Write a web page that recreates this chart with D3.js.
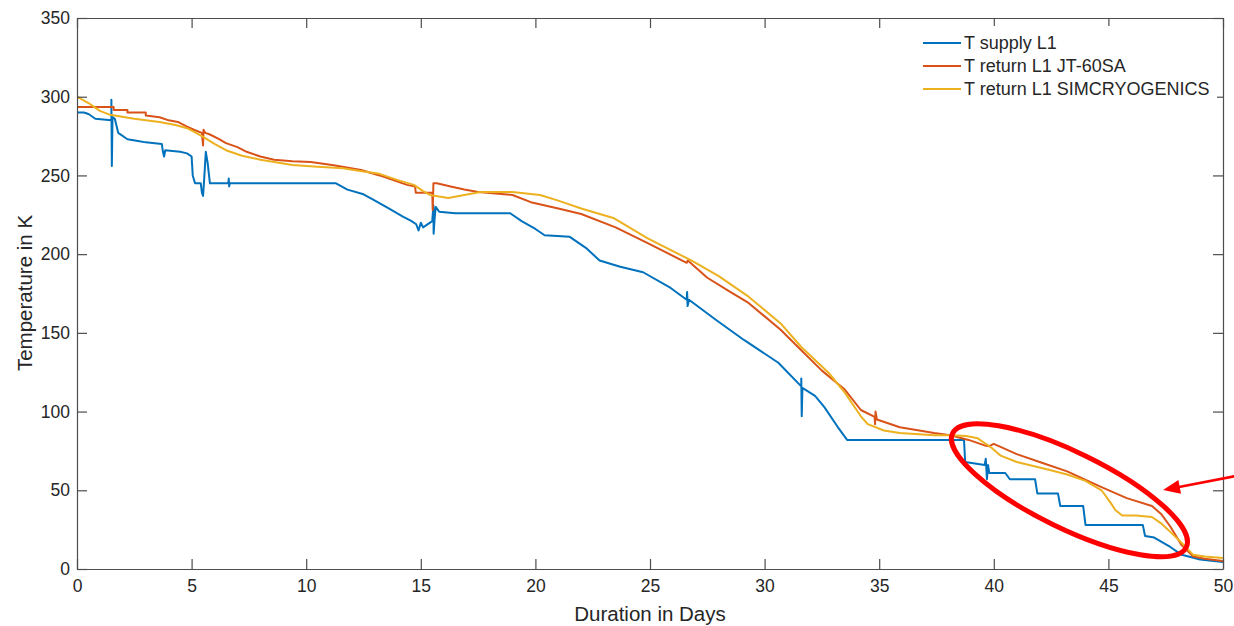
<!DOCTYPE html>
<html><head><meta charset="utf-8">
<script src="https://cdn.jsdelivr.net/npm/d3@7"></script>
<style>
html,body{margin:0;padding:0;background:#fff;}
svg{display:block;font-family:"Liberation Sans",Arial,Helvetica,sans-serif;}
</style></head>
<body><svg id="c" width="1234" height="626"></svg>
<script>
// ---- data: [day, K] ----
const seriesNames = ["T supply L1", "T return L1 JT-60SA", "T return L1 SIMCRYOGENICS"];
const xTicks = [0,5,10,15,20,25,30,35,40,45,50];
const yTicks = [0,50,100,150,200,250,300,350];

const supplyL1 = [
[0,290],[0,312],[0,290],[0.3,290],[0.5,289],[0.8,286],[1.5,285],[1.5,298],[1.52,256],[1.55,287],[1.65,286],[1.8,277],[2.2,273],[2.6,272],[3.0,271],[3.7,270],[3.75,265],[3.8,262],[3.85,266],[4.5,265],[4.8,264],[5.0,262],[5.05,250],[5.15,245],[5.4,245],[5.45,239],[5.5,237],[5.55,248],[5.62,265],[5.7,258],[5.8,245],[6.6,245],[6.62,248],[6.64,243],[6.66,245],[11.3,245],[11.8,241],[12.5,238],[13,234],[13.6,229],[14.2,224],[14.6,221],[14.8,219],[14.9,215],[15.0,220],[15.1,217],[15.5,221],[15.55,231],[15.56,213],[15.6,222],[15.65,230],[15.8,227],[16.5,226],[18.9,226],[19.4,221],[20.0,216],[20.4,212],[21.5,211],[22.2,204],[22.8,196],[23.7,192],[24.7,188.5],[25.9,178.5],[26.6,171],[26.62,176],[26.64,167],[26.7,171],[27.9,158],[29.1,145.5],[30.6,131],[31.6,116],[31.6,121],[31.62,97],[31.65,115],[32.2,110],[32.6,103],[33.2,90],[33.6,82],[38.7,82],[38.75,68],[39.6,66],[39.65,70],[39.7,57],[39.75,66],[39.8,61],[40.5,61],[40.7,57],[41.8,57],[41.9,48],[42.8,48],[42.9,40],[43.9,40],[44.0,28],[46.5,28],[46.6,21],[47.0,20],[47.7,14],[48.2,9],[49.0,6],[50,4.5]
];
const returnJT60SA = [
[0,293.5],[1.6,293.5],[1.6,291.5],[2.2,291.5],[2.2,290],[3.0,290],[3.0,288],[3.6,287],[4.0,285],[4.4,284],[4.8,281],[5.1,279],[5.45,277],[5.5,269],[5.52,279],[5.6,277],[5.8,276],[6.2,273],[6.5,270.5],[7.0,268],[7.4,265],[8.0,262],[8.6,260],[9.4,259],[10.2,258.5],[11.2,256.5],[12.4,253.5],[13.2,250],[13.8,247],[14.4,244],[14.75,243],[14.78,239],[15.5,239],[15.52,228],[15.55,245],[15.7,245],[16.3,243],[16.9,241],[17.5,239.5],[19.0,237.6],[19.8,233],[21,229],[22,225.5],[23.5,217],[24.9,207],[26.6,194.5],[26.65,196],[27.5,185],[28.5,176],[29.3,169],[30.7,152],[31.6,139],[32.5,126],[33.5,114],[34.2,101],[34.8,96.6],[34.82,92],[34.84,100],[34.9,95],[35.9,90],[37.4,86.4],[38.1,85],[38.9,82],[39.6,78.5],[39.8,78],[40.0,79.5],[41,73],[42,68],[43.2,62],[44.7,52],[45.8,45],[46.9,40],[47.3,35],[47.7,27],[48.2,15],[48.7,8],[49.2,6.5],[50,5]
];
const returnSIMCRYO = [
[0,283],[0,300],[0.5,296],[1.0,291],[1.45,288.5],[2.5,286],[3.6,284],[4.3,282],[4.8,280],[5.2,277],[5.5,274.5],[6.0,270],[6.5,266],[7.2,262.5],[8,260],[9.4,256.6],[10.5,255.5],[11.6,254.5],[12.5,252.5],[13.2,251],[14.0,247],[14.7,244],[15.1,240],[15.4,237.6],[16.2,235.7],[16.9,237.5],[17.6,239.5],[19,239.5],[20.2,237.6],[21,234],[22,229],[23.4,223],[24.9,210],[26.8,196],[28,186],[29.3,173],[30.7,156],[31.6,141],[32.8,124.5],[33.5,112],[34.2,97],[34.5,92],[35.2,88],[35.9,86.4],[37.4,85],[38.1,85],[38.8,84.5],[39.3,83],[39.9,77],[40.3,72],[41,68],[42.4,63],[43.2,60],[44.0,56],[44.7,50],[45.1,42],[45.3,37.5],[45.6,34],[46.2,34],[46.9,33],[47.3,29],[47.6,25],[48.2,16.5],[48.7,9],[49.2,8],[49.6,7.5],[50,7]
];

const colors = ["#0072BD", "#D95319", "#EDB120"];

// ---- layout ----
const L = 77, R = 1223, T = 18, B = 569;
const svg = d3.select("#c");
const x = d3.scaleLinear().domain([0,50]).range([L,R]);
const y = d3.scaleLinear().domain([0,350]).range([B,T]);

svg.append("defs").append("clipPath").attr("id","clip")
  .append("rect").attr("x",L).attr("y",T).attr("width",R-L).attr("height",B-T);

const line = d3.line().x(d=>x(d[0])).y(d=>y(d[1]));
const g = svg.append("g").attr("clip-path","url(#clip)");
[supplyL1, returnJT60SA, returnSIMCRYO].forEach((s,i)=>{
  g.append("path").datum(s).attr("d",line).attr("fill","none")
   .attr("stroke",colors[i]).attr("stroke-width",2).attr("stroke-linejoin","round");
});

// ---- axes ----
const axCol = "#4d4d4d", txtCol = "#262626";
function style(sel){
  sel.select(".domain").attr("stroke",axCol).attr("stroke-width",1.2);
  sel.selectAll(".tick line").attr("stroke",axCol).attr("stroke-width",1.2);
  sel.selectAll(".tick text").attr("fill",txtCol).attr("font-size","17.5px").attr("font-family","Liberation Sans, Arial, sans-serif");
}
const xb = svg.append("g").attr("transform",`translate(0,${B})`)
  .call(d3.axisBottom(x).tickValues(xTicks).tickSizeInner(-10).tickSizeOuter(0).tickPadding(11).tickFormat(d3.format("d")));
style(xb);
const xt = svg.append("g").attr("transform",`translate(0,${T})`)
  .call(d3.axisTop(x).tickValues(xTicks).tickSizeInner(-10).tickSizeOuter(0).tickFormat(""));
style(xt);
const yl = svg.append("g").attr("transform",`translate(${L},0)`)
  .call(d3.axisLeft(y).tickValues(yTicks).tickSizeInner(-10).tickSizeOuter(0).tickPadding(7).tickFormat(d3.format("d")));
style(yl);
const yr = svg.append("g").attr("transform",`translate(${R},0)`)
  .call(d3.axisRight(y).tickValues(yTicks).tickSizeInner(-10).tickSizeOuter(0).tickFormat(""));
style(yr);

// axis titles
svg.append("text").attr("x",(L+R)/2).attr("y",621).attr("text-anchor","middle")
  .attr("fill",txtCol).attr("font-size","20.5px").text("Duration in Days");
svg.append("text").attr("transform",`translate(32,293) rotate(-90)`).attr("text-anchor","middle")
  .attr("fill",txtCol).attr("font-size","20.5px").text("Temperature in K");

// ---- legend ----
const lg = svg.append("g");
lg.append("rect").attr("x",905).attr("y",26).attr("width",312).attr("height",72).attr("fill","#fff");
seriesNames.forEach((n,i)=>{
  const yy = 43 + i*23;
  lg.append("line").attr("x1",923).attr("x2",961).attr("y1",yy).attr("y2",yy)
    .attr("stroke",colors[i]).attr("stroke-width",2);
  lg.append("text").attr("x",964).attr("y",yy).attr("dy","0.36em")
    .attr("fill",txtCol).attr("font-size","18px").text(n);
});

// ---- annotation: red ellipse + arrow ----
const ex = x(43.3), ey = y(50);
svg.append("ellipse").attr("cx",ex).attr("cy",ey).attr("rx",130).attr("ry",38)
  .attr("transform",`rotate(26,${ex},${ey})`)
  .attr("fill","none").attr("stroke","#ff0000").attr("stroke-width",5);
const ax1 = 1236, ay1 = 476, ax2 = 1163, ay2 = 490;
const ang = Math.atan2(ay2-ay1, ax2-ax1);
const hl = 17, hw = 7;
svg.append("line").attr("x1",ax1).attr("y1",ay1)
  .attr("x2",ax2 - Math.cos(ang)*hl*0.8).attr("y2",ay2 - Math.sin(ang)*hl*0.8)
  .attr("stroke","#ff0000").attr("stroke-width",2.5);
const bx = ax2 - Math.cos(ang)*hl, by = ay2 - Math.sin(ang)*hl;
svg.append("path").attr("d",`M${ax2},${ay2} L${bx - Math.sin(ang)*hw},${by + Math.cos(ang)*hw} L${bx + Math.sin(ang)*hw},${by - Math.cos(ang)*hw} Z`)
  .attr("fill","#ff0000");
</script></body></html>
